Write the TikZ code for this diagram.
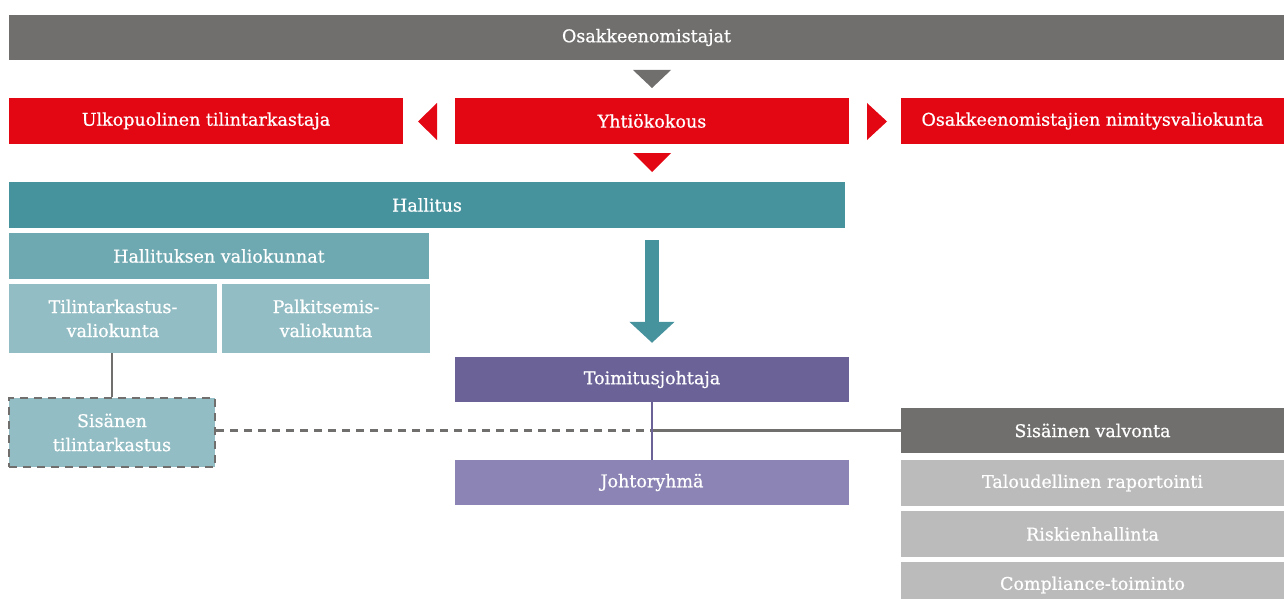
\documentclass[tikz,border=0pt]{standalone}
\usepackage{fontspec}
\setmainfont{DejaVu Serif}[FakeBold=0.8]
\usepackage{tikz}
\usetikzlibrary{arrows.meta}
\usepackage{xcolor}

\definecolor{darkgrey}{HTML}{706F6D}
\definecolor{lightgrey}{HTML}{BBBBBB}
\definecolor{brandred}{HTML}{E30613}
\definecolor{teal1}{HTML}{46939E}
\definecolor{teal2}{HTML}{6EA8B0}
\definecolor{teal3}{HTML}{93BDC4}
\definecolor{purple1}{HTML}{6B6298}
\definecolor{purple2}{HTML}{8C84B4}

\tikzset{
	box/.style={rectangle, inner sep=0pt, text=white, align=center,
		font=\fontsize{17.5}{24}\selectfont},
}

\begin{document}
\begin{tikzpicture}[x=1pt, y=-1pt]
		\useasboundingbox (0,0) rectangle (1284,599);

		% Owners and general meeting
		\node[box, fill=darkgrey, minimum width=1275, minimum height=45] (owners) at (646.5,37.5) {Osakkeenomistajat};
		\node[box, fill=brandred, minimum width=394, minimum height=45] (auditor) at (206,121) {Ulkopuolinen tilintarkastaja};
		\node[box, fill=brandred, minimum width=394, minimum height=45] (agm) at (652,121) {Yhtiökokous};
		\node[box, fill=brandred, minimum width=383, minimum height=45] (nomination) at (1092.5,121) {Osakkeenomistajien nimitysvaliokunta};

		% Small triangles
		\fill[darkgrey] (633,70) -- (671,70) -- (652,88) -- cycle;
		\fill[brandred] (437,103) -- (437,140) -- (418,121.5) -- cycle;
		\fill[brandred] (867,103) -- (867,140) -- (887,121.5) -- cycle;
		\fill[brandred] (633,153) -- (671,153) -- (652,172) -- cycle;

		% Board and committees
		\node[box, fill=teal1, minimum width=836, minimum height=46] (board) at (427,205) {Hallitus};
		\node[box, fill=teal2, minimum width=420, minimum height=46] (committees) at (219,256) {Hallituksen valiokunnat};
		\node[box, fill=teal3, minimum width=208, minimum height=69] (auditcom) at (113,318.5) {Tilintarkastus-\\valiokunta};
		\node[box, fill=teal3, minimum width=208, minimum height=69] (remcom) at (326,318.5) {Palkitsemis-\\valiokunta};
		\node[box, fill=teal3, minimum width=206, minimum height=69, draw=darkgrey, line width=2.5, dash pattern=on 8 off 6] (intaudit) at (112,432.5) {Sisänen\\tilintarkastus};

		% Management
		\node[box, fill=purple1, minimum width=394, minimum height=45] (ceo) at (652,379.5) {Toimitusjohtaja};
		\node[box, fill=purple2, minimum width=394, minimum height=45] (mgmt) at (652,482.5) {Johtoryhmä};

		% Internal control
		\node[box, fill=darkgrey, minimum width=383, minimum height=45] (control) at (1092.5,430.5) {Sisäinen valvonta};
		\foreach \y/\name/\txt in {483/report/Taloudellinen raportointi, 534/risk/Riskienhallinta, 585/compliance/Compliance-toiminto} {
			\node[box, fill=lightgrey, minimum width=383, minimum height=46] (\name) at (1092.5,\y) {\txt};
		}

		% Connectors
		\draw[teal1, line width=14, -{Triangle[width=44, length=21]}, shorten <=12, shorten >=14] (ceo.north |- board.south) -- (ceo.north);
		\draw[darkgrey, line width=2.5] (intaudit.north |- auditcom.south) -- (intaudit.north);
		\coordinate (cross) at (ceo.south |- control.west);
		\draw[darkgrey, line width=2.5, dash pattern=on 8 off 6] (intaudit.east |- cross) -- (cross);
		\draw[darkgrey, line width=2.5] (cross) -- (control.west);
		\draw[purple1, line width=2] (ceo.south) -- (mgmt.north);
	\end{tikzpicture}
\end{document}
